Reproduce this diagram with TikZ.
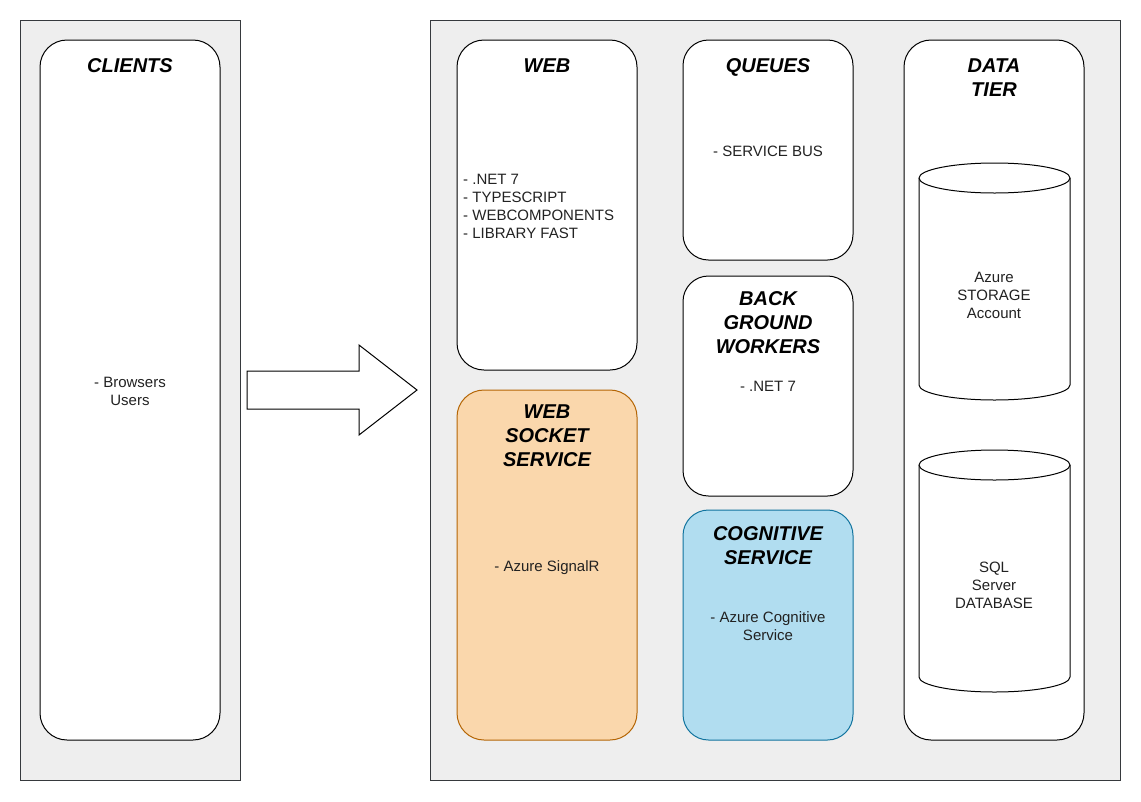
\documentclass[tikz,border=0pt]{standalone}
\usepackage{fontspec}
\setmainfont{Liberation Sans}
\definecolor{contfill}{HTML}{EEEEEE}
\definecolor{contline}{HTML}{36393D}
\definecolor{orfill}{HTML}{FAD7AC}
\definecolor{orline}{HTML}{B46504}
\definecolor{blfill}{HTML}{B1DDF0}
\definecolor{blline}{HTML}{10739E}
\definecolor{bodytext}{HTML}{222222}
\begin{document}
\begin{tikzpicture}[x=1pt,y=-1pt,
  container/.style={draw=contline,fill=contfill,line width=1pt,rectangle,inner sep=0pt},
  box/.style={draw=black,fill=white,line width=1pt,rectangle,inner sep=0pt,rounded corners=27pt},
  narrowbox/.style={box,rounded corners=25.5pt},
  title/.style={inner sep=0pt,align=center,font=\fontsize{20}{24}\selectfont\bfseries\itshape},
  body/.style={inner sep=0pt,align=center,text=bodytext,font=\fontsize{15}{18}\selectfont},
  cyl/.style={draw=black,fill=white,line width=1pt}
]
\useasboundingbox[fill=white] (0,0) rectangle (1141,801);
% containers
\node[container,minimum width=220pt,minimum height=760pt] (leftc) at (130,400) {};
\node[container,minimum width=690pt,minimum height=760pt] (rightc) at (775,400) {};
% boxes
\node[box,minimum width=180pt,minimum height=700pt] (clients) at (130,390) {};
\node[box,minimum width=180pt,minimum height=330pt] (web) at (547,205) {};
\node[narrowbox,minimum width=170pt,minimum height=220pt] (queues) at (768,150) {};
\node[narrowbox,minimum width=170pt,minimum height=220pt] (bgw) at (768,386) {};
\node[box,draw=orline,fill=orfill,minimum width=180pt,minimum height=350pt] (wss) at (547,565) {};
\node[narrowbox,draw=blline,fill=blfill,minimum width=170pt,minimum height=230pt] (cog) at (768,625) {};
\node[box,minimum width=180pt,minimum height=700pt] (data) at (994,390) {};
% arrow
\draw[draw=black,fill=white,line width=1pt,line join=miter]
  (247,371) -- (359,371) -- (359,345) -- (417,390) -- (359,435) -- (359,409) -- (247,409) -- cycle;
% cylinders
\draw[cyl] (919,178) -- (919,385) arc[start angle=180,end angle=360,x radius=75.5,y radius=-15] -- (1070,178) arc[start angle=0,end angle=180,x radius=75.5,y radius=-15] -- cycle;
\draw[cyl] (919,178) arc[start angle=180,end angle=360,x radius=75.5,y radius=-15];
\draw[cyl] (919,465) -- (919,677) arc[start angle=180,end angle=360,x radius=75.5,y radius=-15] -- (1070,465) arc[start angle=0,end angle=180,x radius=75.5,y radius=-15] -- cycle;
\draw[cyl] (919,465) arc[start angle=180,end angle=360,x radius=75.5,y radius=-15];
% titles
\node[title] (tclients) at (130,66) {CLIENTS};
\node[title] (tweb) at (547,66) {WEB};
\node[title] (tqueues) at (768,67.5) {QUEUES};
\node[title] (tbgw) at (768,323) {BACK\\GROUND\\WORKERS};
\node[title] (twss) at (547,436) {WEB\\SOCKET\\SERVICE};
\node[title] (tcog) at (768,546) {COGNITIVE\\SERVICE};
\node[title] (tdata) at (994,78) {DATA\\TIER};
% body texts
\node[body] (bclients) at (130,391) {- Browsers\\Users};
\node[body,align=left,anchor=west] (bweb) at (463,206) {- .NET 7\\- TYPESCRIPT\\- WEBCOMPONENTS\\- LIBRARY FAST};
\node[body] (bqueues) at (768,151) {- SERVICE BUS};
\node[body] (bbgw) at (768,386) {- .NET 7};
\node[body] (bwss) at (547,567.5) {- Azure SignalR};
\node[body] (bcog) at (768,626) {- Azure Cognitive\\Service};
\node[body] (bstor) at (994,295) {Azure\\STORAGE\\Account};
\node[body] (bsql) at (994,585) {SQL\\Server\\DATABASE};
\end{tikzpicture}
\end{document}
